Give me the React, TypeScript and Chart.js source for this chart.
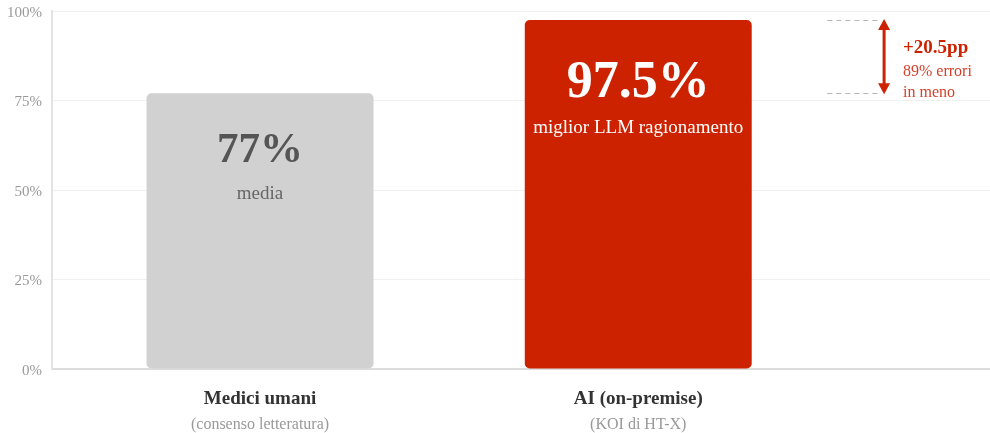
import React, { useEffect, useRef } from 'react';
import { Chart, registerables } from 'chart.js';

Chart.register(...registerables);

const categories = ['Medici umani', 'AI (on-premise)'];
const categoryNotes = ['(consenso letteratura)', '(KOI di HT-X)'];
const values = [77, 97.5];
const valueLabels = ['77%', '97.5%'];
const valueNotes = ['media', 'miglior LLM ragionamento'];
const yTickValues = [0, 25, 50, 75, 100];
const yTickLabels = ['0%', '25%', '50%', '75%', '100%'];
const deltaLabel = '+20.5pp';
const deltaNotes = ['89% errori', 'in meno'];

const FONT = "'Liberation Serif', 'DejaVu Serif', serif";
const RED = '#cc2200';
const RED_LIGHT = '#d4402a';
const GRAY_BAR = '#d1d1d1';

const labelsPlugin = {
  id: 'labelsPlugin',
  afterDatasetsDraw(chart: any) {
    const ctx = chart.ctx;
    const meta = chart.getDatasetMeta(0);
    ctx.save();
    ctx.textAlign = 'center';
    ctx.textBaseline = 'alphabetic';
    meta.data.forEach((bar: any, i: number) => {
      const hi = i === 1;
      const top = bar.y;
      const x = bar.x;
      ctx.font = `bold ${hi ? 52 : 43}px ${FONT}`;
      ctx.fillStyle = hi ? '#ffffff' : '#555555';
      ctx.fillText(valueLabels[i], x, top + (hi ? 77 : 69));
      ctx.font = `19px ${FONT}`;
      ctx.fillStyle = hi ? '#ffffff' : '#666666';
      ctx.fillText(valueNotes[i], x, top + (hi ? 113 : 106));
    });
    const xs = chart.scales.x;
    categories.forEach((c, i) => {
      const x = xs.getPixelForValue(i);
      ctx.font = `bold 19px ${FONT}`;
      ctx.fillStyle = '#333333';
      ctx.fillText(c, x, xs.top + 35);
      ctx.font = `16px ${FONT}`;
      ctx.fillStyle = '#999999';
      ctx.fillText(categoryNotes[i], x, xs.top + 60);
    });
    ctx.restore();
  },
  afterDraw(chart: any) {
    const ctx = chart.ctx;
    const xs = chart.scales.x;
    const ys = chart.scales.y;
    const yTop = ys.getPixelForValue(values[1]);
    const yBot = ys.getPixelForValue(values[0]);
    const dashL = xs.getPixelForValue(1.5);
    const arrowX = xs.getPixelForValue(1.65);
    const textX = xs.getPixelForValue(1.7);
    ctx.save();
    ctx.strokeStyle = '#b5b5b5';
    ctx.lineWidth = 1;
    ctx.setLineDash([5, 4]);
    [yTop, yBot].forEach((y) => {
      ctx.beginPath();
      ctx.moveTo(dashL, Math.round(y) + 0.5);
      ctx.lineTo(arrowX - 3, Math.round(y) + 0.5);
      ctx.stroke();
    });
    ctx.setLineDash([]);
    ctx.strokeStyle = RED;
    ctx.fillStyle = RED;
    ctx.lineWidth = 3;
    ctx.beginPath();
    ctx.moveTo(arrowX, yTop + 8);
    ctx.lineTo(arrowX, yBot - 8);
    ctx.stroke();
    ctx.beginPath();
    ctx.moveTo(arrowX, yTop - 1);
    ctx.lineTo(arrowX - 6, yTop + 10);
    ctx.lineTo(arrowX + 6, yTop + 10);
    ctx.closePath();
    ctx.fill();
    ctx.beginPath();
    ctx.moveTo(arrowX, yBot + 1);
    ctx.lineTo(arrowX - 6, yBot - 10);
    ctx.lineTo(arrowX + 6, yBot - 10);
    ctx.closePath();
    ctx.fill();
    const mid = (yTop + yBot) / 2;
    ctx.textAlign = 'left';
    ctx.textBaseline = 'alphabetic';
    ctx.font = `bold 19px ${FONT}`;
    ctx.fillText(deltaLabel, textX, mid - 4);
    ctx.font = `16px ${FONT}`;
    ctx.fillStyle = RED_LIGHT;
    ctx.fillText(deltaNotes[0], textX, mid + 19);
    ctx.fillText(deltaNotes[1], textX, mid + 40);
    ctx.restore();
  },
};

export default function App() {
  const ref = useRef<HTMLCanvasElement>(null);
  useEffect(() => {
    document.body.style.margin = '0';
    const chart = new Chart(ref.current as HTMLCanvasElement, {
      type: 'bar',
      data: {
        datasets: [
          {
            data: values.map((v, i) => ({ x: i, y: v })),
            backgroundColor: [GRAY_BAR, RED],
            borderRadius: 5,
            borderSkipped: false,
            barPercentage: 0.6,
            categoryPercentage: 1,
          },
        ],
      },
      options: {
        animation: false,
        responsive: false,
        devicePixelRatio: 1,
        layout: { padding: { top: 11, right: 0, left: 0, bottom: 0 } },
        plugins: { legend: { display: false }, tooltip: { enabled: false } },
        scales: {
          x: {
            type: 'linear',
            min: -0.55,
            max: 1.93,
            offset: false,
            bounds: 'data',
            grid: { display: false, drawTicks: false, offset: false },
            border: { display: true, color: '#dddddd', width: 2 },
            ticks: { display: false },
            afterBuildTicks: (s: any) => {
              s.ticks = categories.map((_, i) => ({ value: i }));
            },
            afterFit: (s: any) => {
              s.height = 64;
              s.paddingLeft = 0;
              s.paddingRight = 0;
            },
          },
          y: {
            min: 0,
            max: 100,
            afterBuildTicks: (s: any) => {
              s.ticks = yTickValues.map((v) => ({ value: v }));
            },
            ticks: {
              callback: (v: any) => yTickLabels[yTickValues.indexOf(Number(v))],
              color: '#999999',
              font: { family: FONT, size: 15 },
              padding: 10,
              labelOffset: 2,
            },
            grid: { color: '#f0f0f0', drawTicks: false },
            border: { display: true, color: '#e3e3e3', width: 2 },
            afterFit: (s: any) => {
              s.width = 52;
              s.paddingTop = 0;
              s.paddingBottom = 0;
            },
          },
        },
      },
      plugins: [labelsPlugin],
    } as any);
    return () => chart.destroy();
  }, []);
  return <canvas ref={ref} width={990} height={433} style={{ display: 'block' }} />;
}
